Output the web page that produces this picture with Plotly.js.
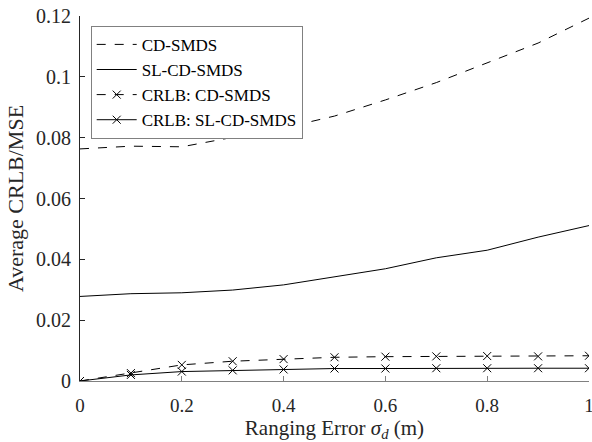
<!DOCTYPE html>
<html>
<head>
<meta charset="utf-8">
<script src="https://cdn.plot.ly/plotly-3.0.1.min.js"></script>
<style>html,body{margin:0;padding:0;background:#fff;}#chart{width:592px;height:442px;}</style>
</head>
<body>
<div id="chart"></div>
<script>
const sigma = [0, 0.1, 0.2, 0.3, 0.4, 0.5, 0.6, 0.7, 0.8, 0.9, 1.0];
const mseCD = [0.0763, 0.0772, 0.0770, 0.0801, 0.0832, 0.0871, 0.0924, 0.0981, 0.1047, 0.1111, 0.1193];
const mseSL = [0.0278, 0.0287, 0.0290, 0.0299, 0.0316, 0.0342, 0.0369, 0.0405, 0.0430, 0.0473, 0.0511];
const crlbCD = [0, 0.0026, 0.0053, 0.0065, 0.0072, 0.0078, 0.0080, 0.0081, 0.0082, 0.0081, 0.0083];
const crlbSL = [0, 0.0020, 0.0031, 0.0035, 0.0038, 0.0041, 0.0041, 0.0042, 0.0042, 0.0042, 0.0042];
const names = ["CD-SMDS", "SL-CD-SMDS", "CRLB: CD-SMDS", "CRLB: SL-CD-SMDS"];
const xTicks = [0, 0.2, 0.4, 0.6, 0.8, 1];
const xTickText = ["0", "0.2", "0.4", "0.6", "0.8", "1"];
const yTicks = [0, 0.02, 0.04, 0.06, 0.08, 0.1, 0.12];
const yTickText = ["0", "0.02", "0.04", "0.06", "0.08", "0.1", "0.12"];

const FAM = "Liberation Serif";
const INK = "#262626";
const traces = [
  {x: sigma, y: mseCD, name: names[0], mode: "lines", line: {color: "#000", width: 1, dash: "dash"}},
  {x: sigma, y: mseSL, name: names[1], mode: "lines", line: {color: "#000", width: 1}},
  {x: sigma, y: crlbCD, name: names[2], mode: "lines+markers", line: {color: "#000", width: 1, dash: "dash"},
   marker: {symbol: "x-thin", size: 8, color: "#000", line: {color: "#000", width: 1}}},
  {x: sigma, y: crlbSL, name: names[3], mode: "lines+markers", line: {color: "#000", width: 1},
   marker: {symbol: "x-thin", size: 8, color: "#000", line: {color: "#000", width: 1}}}
];
const layout = {
  width: 592, height: 442,
  margin: {l: 80, r: 3, t: 16, b: 61},
  paper_bgcolor: "#fff", plot_bgcolor: "#fff",
  font: {family: FAM, size: 20, color: INK},
  showlegend: true,
  legend: {x: 0.021, y: 0.973, xanchor: "left", yanchor: "top", bordercolor: "#808080", borderwidth: 1,
           bgcolor: "#fff", font: {family: FAM, size: 17, color: "#000"}, tracegroupgap: 0,
           itemwidth: 40},
  xaxis: {range: [0, 1], tickvals: xTicks, ticktext: xTickText,
          ticks: "inside", ticklen: 5, tickcolor: "#808080", showline: true, linecolor: "#808080", linewidth: 1,
          ticklabeloverflow: "allow", ticklabelstandoff: 7,
          showgrid: false, zeroline: false, tickfont: {family: FAM, size: 19, color: INK},
          title: {text: "Ranging Error <i>σ</i><sub><i>d</i></sub> (m)", font: {family: FAM, size: 21, color: INK}, standoff: 8}},
  yaxis: {range: [0, 0.12], tickvals: yTicks, ticktext: yTickText,
          ticks: "inside", ticklen: 5, tickcolor: INK, showline: true, linecolor: INK, linewidth: 1,
          ticklabeloverflow: "allow", ticklabelstandoff: 4,
          showgrid: false, zeroline: false, tickfont: {family: FAM, size: 20, color: INK},
          title: {text: "Average CRLB/MSE", font: {family: FAM, size: 22, color: INK}, standoff: 6}}
};
Plotly.newPlot("chart", traces, layout, {displayModeBar: false, staticPlot: true});
</script>
</body>
</html>
